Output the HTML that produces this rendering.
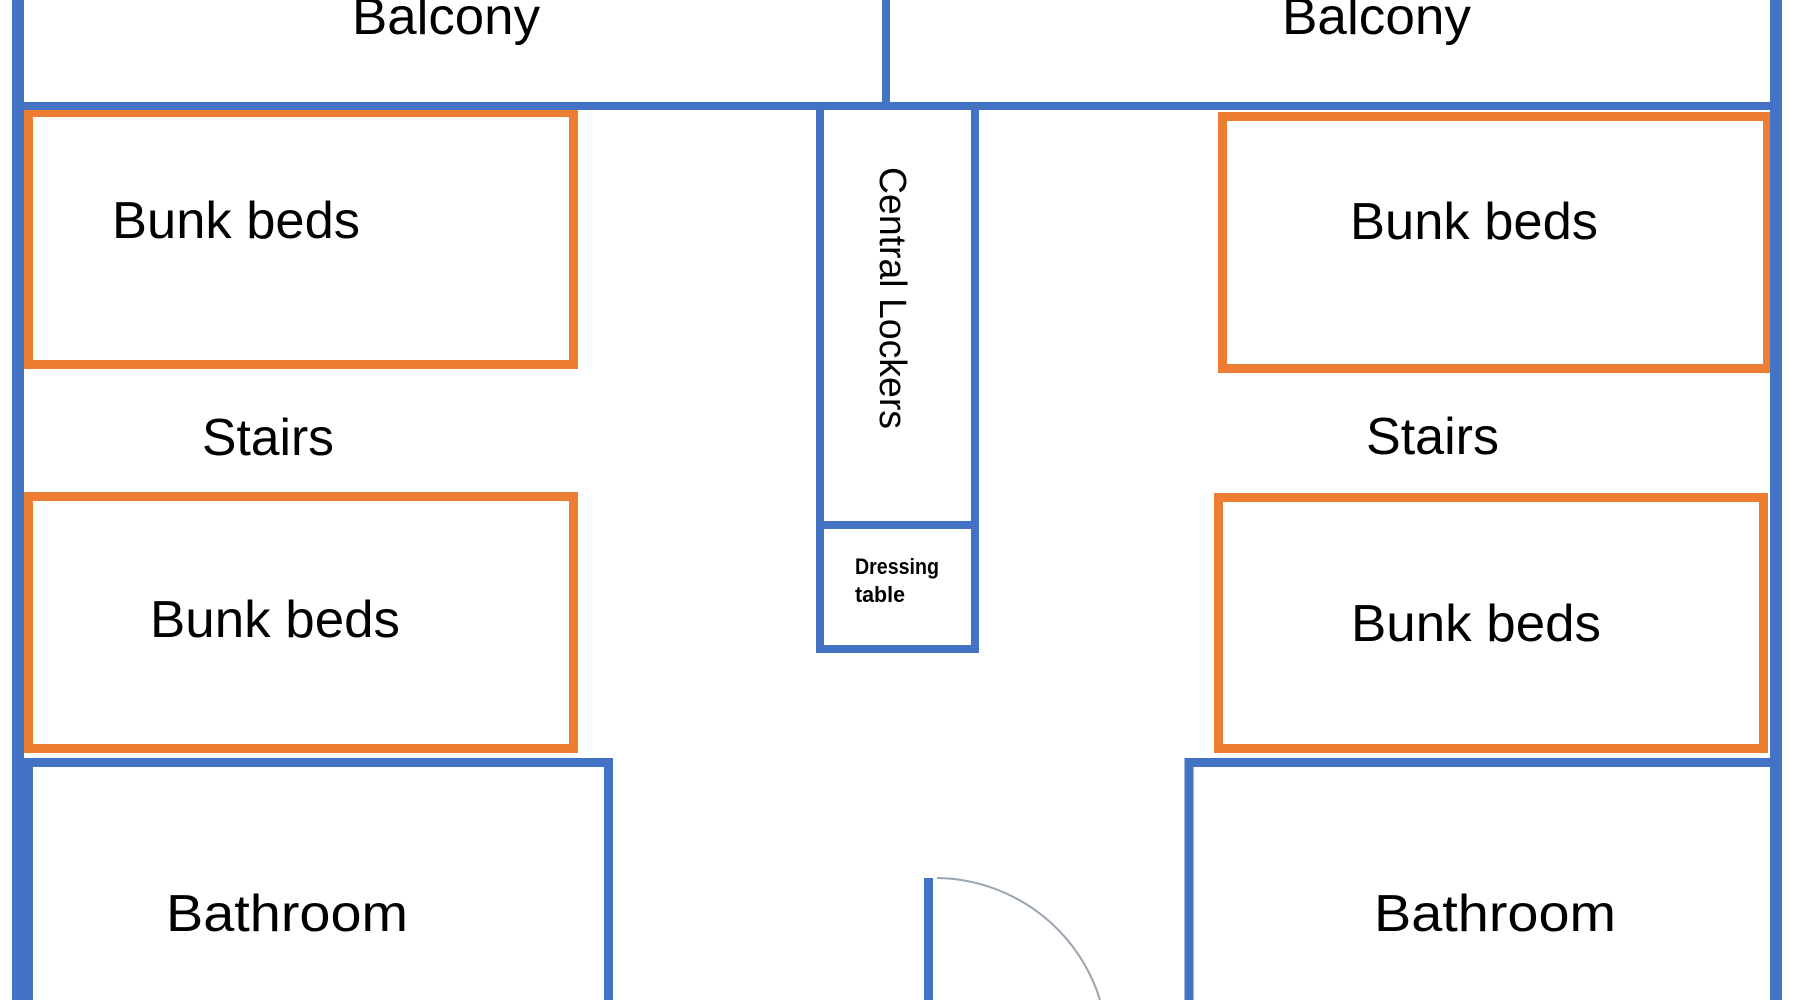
<!DOCTYPE html>
<html>
<head>
<meta charset="utf-8">
<style>
  html, body { margin: 0; padding: 0; background: #ffffff; width: 1800px; height: 1000px; overflow: hidden; }
  svg { display: block; }
  text { font-family: "Liberation Sans", "DejaVu Sans", sans-serif; fill: #000; }
</style>
</head>
<body>
<svg width="1800" height="1000" viewBox="0 0 1800 1000" xmlns="http://www.w3.org/2000/svg">
  <rect x="0" y="0" width="1800" height="1000" fill="#ffffff"/>

  <!-- Orange bunk bed boxes -->
  <g fill="none" stroke="#ED7D31" stroke-width="9">
    <rect x="28.5" y="112.5" width="545" height="252"/>
    <rect x="28.5" y="496.5" width="545" height="252"/>
    <rect x="1222.5" y="116.5" width="545" height="252"/>
    <rect x="1218.5" y="497.5" width="545" height="251"/>
  </g>

  <!-- Blue walls -->
  <g fill="#4472C4">
    <rect x="12" y="0" width="12" height="1000"/>
    <rect x="1770" y="0" width="12" height="1000"/>
    <rect x="12" y="102" width="1770" height="8"/>
    <rect x="882" y="0" width="8" height="106"/>
    <!-- locker divider -->
    <rect x="816" y="521" width="163" height="8"/>
    <!-- door leaf -->
    <rect x="924" y="878" width="9" height="122"/>
  </g>
  <g fill="none" stroke="#4472C4">
    <!-- central lockers -->
    <rect x="820" y="106" width="155" height="543" stroke-width="8"/>
    <!-- bathrooms (open at bottom edge) -->
    <path d="M 28.5 1000 V 762.5 H 608.5 V 1000" stroke-width="9"/>
    <path d="M 1189 1000 V 762.5 H 1776 V 1000" stroke-width="9"/>
  </g>

  <!-- door swing arc -->
  <path d="M 937 878 A 173 173 0 0 1 1100 1000" fill="none" stroke="#9AA3B0" stroke-width="2"/>

  <!-- Labels -->
  <g font-size="52">
    <text x="352" y="34" textLength="188" lengthAdjust="spacingAndGlyphs">Balcony</text>
    <text x="1282" y="34" textLength="189" lengthAdjust="spacingAndGlyphs">Balcony</text>
    <text x="112" y="238" textLength="248" lengthAdjust="spacingAndGlyphs">Bunk beds</text>
    <text x="1350" y="239" textLength="248" lengthAdjust="spacingAndGlyphs">Bunk beds</text>
    <text x="202" y="455" textLength="132" lengthAdjust="spacingAndGlyphs">Stairs</text>
    <text x="1366" y="454" textLength="133" lengthAdjust="spacingAndGlyphs">Stairs</text>
    <text x="150" y="637" textLength="250" lengthAdjust="spacingAndGlyphs">Bunk beds</text>
    <text x="1351" y="641" textLength="250" lengthAdjust="spacingAndGlyphs">Bunk beds</text>
    <text x="166" y="931" textLength="242" lengthAdjust="spacingAndGlyphs">Bathroom</text>
    <text x="1374" y="931" textLength="242" lengthAdjust="spacingAndGlyphs">Bathroom</text>
  </g>

  <text transform="translate(880,167) rotate(90)" font-size="38" textLength="262" lengthAdjust="spacingAndGlyphs">Central Lockers</text>

  <g font-size="22" font-weight="bold">
    <text x="855" y="574" textLength="84" lengthAdjust="spacingAndGlyphs">Dressing</text>
    <text x="855" y="602" textLength="50" lengthAdjust="spacingAndGlyphs">table</text>
  </g>
</svg>
</body>
</html>
